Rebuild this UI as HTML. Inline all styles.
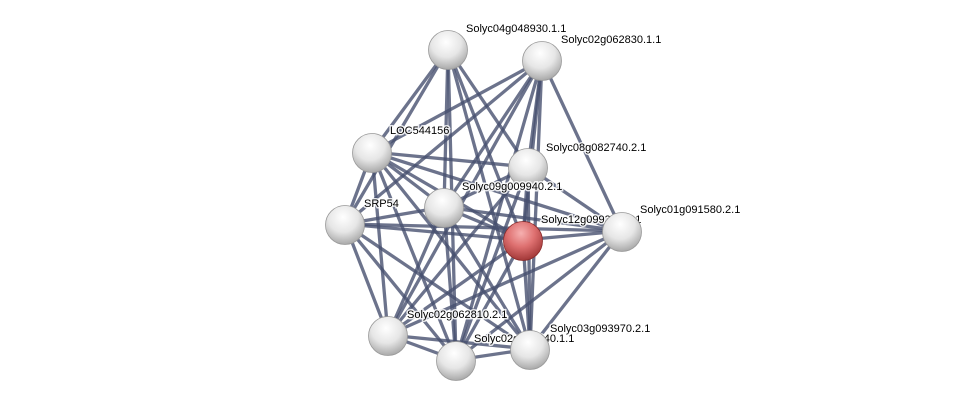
<!DOCTYPE html>
<html><head><meta charset="utf-8"><style>
html,body{margin:0;padding:0;background:#fff;}
svg text{font-family:"Liberation Sans",sans-serif;font-size:11px;fill:#000;paint-order:stroke;stroke:#fff;stroke-width:3px;stroke-opacity:0.85;}
</style></head><body>
<svg width="975" height="405" viewBox="0 0 975 405" xmlns="http://www.w3.org/2000/svg">
<defs>
<radialGradient id="w" cx="45%" cy="30%" r="70%">
<stop offset="0" stop-color="#ffffff"/><stop offset="0.55" stop-color="#e6e6e6"/><stop offset="1" stop-color="#a9a9a9"/>
</radialGradient>
<radialGradient id="r" cx="45%" cy="30%" r="70%">
<stop offset="0" stop-color="#f6b0b0"/><stop offset="0.5" stop-color="#de7070"/><stop offset="1" stop-color="#a23838"/>
</radialGradient>
</defs>
<g stroke="#47506f" stroke-width="3.3" stroke-opacity="0.8" stroke-linecap="round" id="edges"></g>
<g id="labels1"></g>
<g id="nodes"></g>
<g id="labels2"></g>
</svg>
<script>
var N={A:[448,49],B:[542,60],C:[372,152],D:[528,167],E:[444,207],F:[345,224],G:[523,240],H:[622,231],I:[388,335],J:[456,360],K:[530,349]};
var ex={"AB":1,"AH":1,"DF":1,"AI":1,"BF":0,"DI":0};
var keys=Object.keys(N),ns="http://www.w3.org/2000/svg";
var eg=document.getElementById("edges");
for(var i=0;i<keys.length;i++)for(var j=i+1;j<keys.length;j++){var k=keys[i]+keys[j];if(ex[k])continue;
var l=document.createElementNS(ns,"line");l.setAttribute("x1",N[keys[i]][0]);l.setAttribute("y1",N[keys[i]][1]);l.setAttribute("x2",N[keys[j]][0]);l.setAttribute("y2",N[keys[j]][1]);eg.appendChild(l);}
function txt(g,x,y,s){var t=document.createElementNS(ns,"text");t.setAttribute("x",x);t.setAttribute("y",y);t.textContent=s;document.getElementById(g).appendChild(t);}
txt("labels1",541,223,"Solyc12g099340.1.1");
txt("labels1",474,342,"Solyc02g062840.1.1");
var ng=document.getElementById("nodes");
keys.forEach(function(k){var c=document.createElementNS(ns,"circle");c.setAttribute("cx",N[k][0]);c.setAttribute("cy",N[k][1]+1);c.setAttribute("r",19.5);c.setAttribute("fill",k=="G"?"url(#r)":"url(#w)");c.setAttribute("stroke",k=="G"?"#8a2a2a":"#999");c.setAttribute("stroke-width","0.8");ng.appendChild(c);});
txt("labels2",466,32,"Solyc04g048930.1.1");
txt("labels2",561,43,"Solyc02g062830.1.1");
txt("labels2",390,134,"LOC544156");
txt("labels2",546,151,"Solyc08g082740.2.1");
txt("labels2",462,190,"Solyc09g009940.2.1");
txt("labels2",364,207,"SRP54");
txt("labels2",640,213,"Solyc01g091580.2.1");
txt("labels2",407,318,"Solyc02g062810.2.1");
txt("labels2",550,332,"Solyc03g093970.2.1");
</script>
</body></html>
